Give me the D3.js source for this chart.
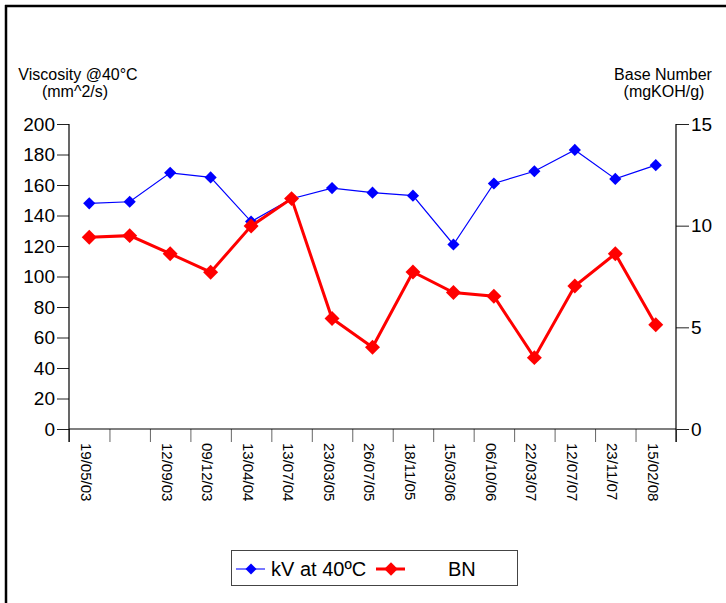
<!DOCTYPE html>
<html>
<head>
<meta charset="utf-8">
<script src="https://cdn.jsdelivr.net/npm/d3@7"></script>
<style>
  html, body { margin: 0; padding: 0; background: #fff; }
  svg { display: block; font-family: Arial, "Liberation Sans", sans-serif; }
</style>
</head>
<body>
<svg id="chart" width="726" height="603"></svg>
<script>
// ---- data ----
const dates = ["19/05/03", "", "12/09/03", "09/12/03", "13/04/04", "13/07/04", "23/03/05",
  "26/07/05", "18/11/05", "15/03/06", "06/10/06", "22/03/07", "12/07/07", "23/11/07", "15/02/08"];
const kvValues = [148, 149, 168, 165, 136, 151, 158, 155, 153, 121, 161, 169, 183, 164, 173];
const bnValues = [9.43, 9.51, 8.62, 7.71, 9.98, 11.33, 5.43, 4.02, 7.72, 6.71, 6.53, 3.51, 7.03, 8.62, 5.13];
const leftTicks = [0, 20, 40, 60, 80, 100, 120, 140, 160, 180, 200];
const rightTicks = [0, 5, 10, 15];
const seriesNames = ["kV at 40ºC", "BN"];

const svg = d3.select("#chart");
const X0 = 69, X1 = 676, Y0 = 429, Y1 = 124;

// frame (top & left visible)
svg.append("line").attr("x1", 5).attr("x2", 726).attr("y1", 6).attr("y2", 6)
  .attr("stroke", "#000").attr("stroke-width", 2.5);
svg.append("line").attr("x1", 6).attr("x2", 6).attr("y1", 5).attr("y2", 603)
  .attr("stroke", "#000").attr("stroke-width", 2.5);

const idx = d3.range(dates.length);
const x = d3.scaleBand().domain(idx).range([X0, X1]).padding(0);
const xb = d3.scaleLinear().domain([0, dates.length]).range([X0, X1]);
const yL = d3.scaleLinear().domain([0, 200]).range([Y0, Y1]);
const yR = d3.scaleLinear().domain([0, 15]).range([Y0, Y1]);

// left axis
const gL = svg.append("g").attr("transform", `translate(${X0},0)`)
  .call(d3.axisLeft(yL).tickValues(leftTicks).tickSize(12).tickPadding(2).tickSizeOuter(0));
gL.select(".domain").remove();
gL.selectAll("line").attr("stroke", "#222");
gL.selectAll("text").attr("font-size", 19).attr("fill", "#000");

// right axis
const gR = svg.append("g").attr("transform", `translate(${X1},0)`)
  .call(d3.axisRight(yR).tickValues(rightTicks).tickSize(13).tickPadding(2).tickSizeOuter(0));
gR.select(".domain").remove();
gR.selectAll("line").attr("stroke", "#222");
gR.selectAll("text").attr("font-size", 19).attr("fill", "#000");

// x tick marks at band boundaries
const gXT = svg.append("g").attr("transform", `translate(0,${Y0})`)
  .call(d3.axisBottom(xb).tickValues(d3.range(dates.length + 1)).tickFormat("").tickSize(13).tickSizeOuter(0));
gXT.select(".domain").remove();
gXT.selectAll("line").attr("stroke", "#666");

// axis lines
svg.append("line").attr("x1", X0).attr("x2", X1).attr("y1", Y0).attr("y2", Y0).attr("stroke", "#000").attr("stroke-width", 1.2);
svg.append("line").attr("x1", X0).attr("x2", X0).attr("y1", Y1).attr("y2", Y0 + 13).attr("stroke", "#000").attr("stroke-width", 1.2);
svg.append("line").attr("x1", X1).attr("x2", X1).attr("y1", Y1).attr("y2", Y0 + 13).attr("stroke", "#000").attr("stroke-width", 1.2);

// x labels (rotated)
const gX = svg.append("g").attr("transform", `translate(0,${Y0})`)
  .call(d3.axisBottom(x).tickFormat(i => dates[i]).tickSize(0).tickPadding(0));
gX.select(".domain").remove();
gX.selectAll("text")
  .attr("font-size", 15).attr("fill", "#000")
  .attr("text-anchor", "start")
  .attr("transform", "translate(-3,14) rotate(90)")
  .attr("x", 0).attr("y", 0).attr("dy", "0.35em");

// axis titles
const title = (t, xx, yy) => svg.append("text").attr("x", xx).attr("y", yy)
  .attr("text-anchor", "middle").attr("font-size", 16).attr("fill", "#000").text(t);
title("Viscosity @40°C", 78, 80);
title("(mm^2/s)", 75, 97);
title("Base Number", 663, 80);
title("(mgKOH/g)", 664, 97);

// series
const diamond = (area) => d3.symbol(d3.symbolSquare, area)();
const cx = i => x(i) + x.bandwidth() / 2;

const lineKV = d3.line().x((d, i) => cx(i)).y(d => yL(d));
svg.append("path").datum(kvValues).attr("d", lineKV)
  .attr("fill", "none").attr("stroke", "#0000ff").attr("stroke-width", 1.2);
svg.selectAll(".kv").data(kvValues).enter().append("path")
  .attr("d", diamond(74))
  .attr("transform", (d, i) => `translate(${cx(i)},${yL(d)}) rotate(45)`)
  .attr("fill", "#0000ff");

const lineBN = d3.line().x((d, i) => cx(i)).y(d => yR(d));
svg.append("path").datum(bnValues).attr("d", lineBN)
  .attr("fill", "none").attr("stroke", "#ff0000").attr("stroke-width", 3);
svg.selectAll(".bn").data(bnValues).enter().append("path")
  .attr("d", diamond(112))
  .attr("transform", (d, i) => `translate(${cx(i)},${yR(d)}) rotate(45)`)
  .attr("fill", "#ff0000");

// legend
const lg = svg.append("g");
lg.append("rect").attr("x", 231.5).attr("y", 550.5).attr("width", 286).attr("height", 35)
  .attr("fill", "#fff").attr("stroke", "#444").attr("stroke-width", 1);
const ly = 569;
lg.append("line").attr("x1", 236).attr("x2", 265).attr("y1", ly).attr("y2", ly)
  .attr("stroke", "#0000ff").attr("stroke-width", 1.5).attr("opacity", 0.7);
lg.append("path").attr("d", diamond(60)).attr("transform", `translate(251,${ly}) rotate(45)`).attr("fill", "#0000ff");
lg.append("text").attr("x", 271).attr("y", ly + 7).attr("font-size", 20).attr("fill", "#000").text(seriesNames[0]);
lg.append("line").attr("x1", 376).attr("x2", 405).attr("y1", ly).attr("y2", ly)
  .attr("stroke", "#ff0000").attr("stroke-width", 3);
lg.append("path").attr("d", diamond(90)).attr("transform", `translate(391,${ly}) rotate(45)`).attr("fill", "#ff0000");
lg.append("text").attr("x", 448).attr("y", ly + 7).attr("font-size", 20).attr("fill", "#000").text(seriesNames[1]);
</script>
</body>
</html>
